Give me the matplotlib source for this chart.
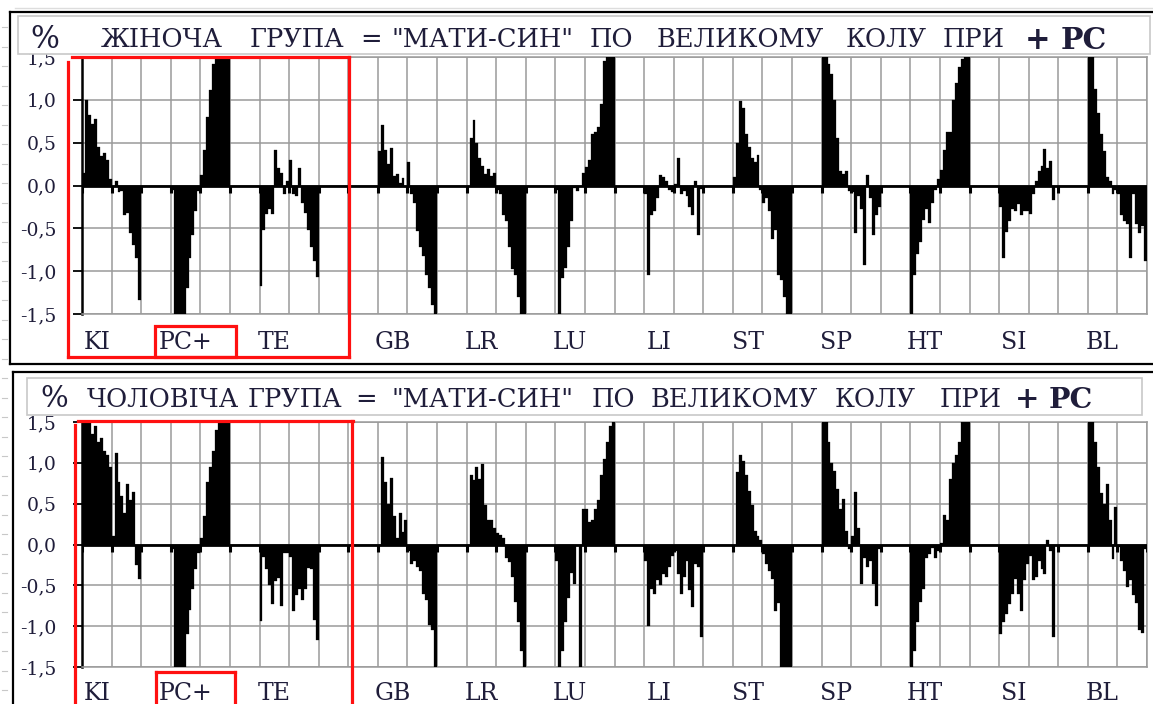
import numpy as np
import matplotlib
matplotlib.use("Agg")
import matplotlib.pyplot as plt
from matplotlib.patches import Rectangle
from matplotlib.ticker import FuncFormatter, MultipleLocator

plt.rcParams['axes.unicode_minus'] = False
plt.rcParams['font.family'] = ['DejaVu Serif']

# ---------------- data ----------------
meridians = ["KI", "PC+", "TE", "GB", "LR", "LU", "LI", "ST", "SP", "HT", "SI", "BL"]

# female group (top panel), 30 values per meridian
f_KI = [0.15, 1.0, 0.82, 0.72, 0.78, 0.45, 0.35, 0.38, 0.3, 0.08,
        0.0, 0.05, -0.08, -0.06, -0.35, -0.32, -0.55, -0.7, -0.85, -1.34,
        0, 0, 0, 0, 0, 0, 0, 0, 0, 0]
f_PC = [-0.05, -1.6, -1.6, -1.6, -1.5, -1.2, -0.85, -0.58, -0.3, -0.06,
        0.12, 0.42, 0.8, 1.12, 1.42, 1.6, 1.6, 1.6, 1.6, 1.6,
        0, 0, 0, 0, 0, 0, 0, 0, 0, 0]
f_TE = [-1.17, -0.52, -0.33, -0.28, -0.33, 0.41, 0.2, 0.15, -0.1, 0.05,
        0.3, -0.1, -0.12, 0.2, -0.2, -0.32, -0.52, -0.72, -0.88, -1.07,
        0, 0, 0, 0, 0, 0, 0, 0, 0, 0]
f_GB = [0, 0, 0, 0, 0, 0, 0, 0, 0, 0,
        0.4, 0.71, 0.42, 0.25, 0.44, 0.11, 0.13, 0.03, 0.09, -0.02,
        0.27, -0.1, -0.2, -0.53, -0.72, -0.82, -1.05, -1.2, -1.4, -1.6]
f_LR = [0, 0, 0, 0, 0, 0, 0, 0, 0, 0,
        0.0, 0.56, 0.77, 0.5, 0.32, 0.23, 0.13, 0.19, 0.11, 0.15,
        -0.05, -0.1, -0.35, -0.42, -0.72, -0.98, -1.05, -1.3, -1.6, -1.6]
f_LU = [0, 0, 0, 0, 0, 0, 0, 0, 0, 0,
        -0.05, -1.6, -1.08, -0.96, -0.72, -0.42, -0.03, -0.07, 0.0, 0.15,
        0.22, 0.3, 0.6, 0.63, 0.68, 0.95, 1.45, 1.6, 1.6, 1.6]
f_LI = [0, 0, 0, 0, 0, 0, 0, 0, 0, 0,
        -0.1, -1.05, -0.35, -0.3, -0.15, 0.12, 0.1, 0.05, -0.05, -0.08,
        0.02, 0.32, -0.1, -0.06, -0.12, -0.25, -0.35, 0.05, -0.58, -0.04]
f_ST = [0, 0, 0, 0, 0, 0, 0, 0, 0, 0,
        0.1, 0.5, 0.99, 0.9, 0.6, 0.45, 0.32, 0.28, 0.36, -0.05,
        -0.2, -0.15, -0.3, -0.62, -0.52, -1.05, -1.1, -1.3, -1.6, -1.6]
f_SP = [0, 0, 0, 0, 0, 0, 0, 0, 0, 0,
        1.6, 1.6, 1.42, 1.3, 1.0, 0.55, 0.17, 0.13, 0.17, -0.06,
        -0.08, -0.55, -0.12, -0.28, -0.93, 0.12, -0.15, -0.58, -0.35, -0.25]
f_HT = [0, 0, 0, 0, 0, 0, 0, 0, 0, 0,
        -1.6, -1.05, -0.8, -0.66, -0.4, -0.28, -0.44, -0.2, -0.05, 0.08,
        0.18, 0.42, 0.62, 0.62, 1.0, 1.2, 1.38, 1.48, 1.6, 1.6]
f_SI = [0, 0, 0, 0, 0, 0, 0, 0, 0, 0,
        -0.25, -0.85, -0.54, -0.42, -0.28, -0.3, -0.22, -0.34, -0.3, -0.3,
        -0.33, -0.1, 0.05, 0.17, 0.23, 0.43, 0.21, 0.29, -0.17, 0.0]
f_BL = [0, 0, 0, 0, 0, 0, 0, 0, 0, 0,
        1.6, 1.6, 1.13, 0.85, 0.6, 0.4, 0.1, 0.05, -0.1, -0.05,
        -0.1, -0.35, -0.42, -0.45, -0.85, -0.1, -0.45, -0.55, -0.47, -0.88]

# male group (bottom panel)
m_KI = [1.6, 1.6, 1.5, 1.35, 1.45, 1.25, 1.3, 1.15, 1.1, 0.95,
        0.1, 1.12, 0.76, 0.6, 0.38, 0.74, 0.55, 0.64, -0.25, -0.42,
        0, 0, 0, 0, 0, 0, 0, 0, 0, 0]
m_PC = [-0.05, -1.6, -1.6, -1.6, -1.5, -1.1, -0.8, -0.55, -0.3, -0.1,
        0.08, 0.35, 0.76, 0.95, 1.15, 1.4, 1.6, 1.6, 1.6, 1.6,
        0, 0, 0, 0, 0, 0, 0, 0, 0, 0]
m_TE = [-0.94, -0.15, -0.3, -0.5, -0.73, -0.45, -0.41, -0.75, -0.1, -0.1,
        -0.15, -0.81, -0.62, -0.55, -0.68, -0.55, -0.29, -0.3, -0.93, -1.17,
        0, 0, 0, 0, 0, 0, 0, 0, 0, 0]
m_GB = [0, 0, 0, 0, 0, 0, 0, 0, 0, 0,
        0.0, 1.07, 0.77, 0.5, 0.81, 0.35, 0.08, 0.38, 0.15, 0.3,
        -0.08, -0.24, -0.2, -0.27, -0.32, -0.6, -0.68, -0.99, -1.05, -1.5]
m_LR = [0, 0, 0, 0, 0, 0, 0, 0, 0, 0,
        0.0, 0.85, 0.79, 0.95, 0.8, 0.99, 0.48, 0.3, 0.3, 0.2,
        0.14, 0.12, 0.08, -0.16, -0.22, -0.4, -0.7, -0.95, -1.3, -1.5]
m_LU = [0, 0, 0, 0, 0, 0, 0, 0, 0, 0,
        -0.2, -1.6, -1.3, -0.95, -0.65, -0.35, -0.48, 0.0, -1.6, 0.44,
        0.44, 0.28, 0.3, 0.44, 0.54, 0.85, 1.05, 1.25, 1.45, 1.6]
m_LI = [0, 0, 0, 0, 0, 0, 0, 0, 0, 0,
        -0.2, -1.0, -0.55, -0.6, -0.44, -0.5, -0.36, -0.4, -0.28, -0.14,
        -0.08, -0.36, -0.6, -0.4, -0.2, -0.56, -0.77, -0.24, -0.28, -1.13]
m_ST = [0, 0, 0, 0, 0, 0, 0, 0, 0, 0,
        0.0, 0.89, 1.09, 1.02, 0.85, 0.65, 0.48, 0.16, 0.1, 0.05,
        -0.12, -0.24, -0.32, -0.42, -0.82, -0.72, -1.6, -1.6, -1.6, -1.6]
m_SP = [0, 0, 0, 0, 0, 0, 0, 0, 0, 0,
        1.6, 1.5, 1.25, 1.0, 0.9, 0.68, 0.44, 0.56, 0.16, -0.06,
        0.1, 0.64, 0.2, -0.48, -0.16, -0.28, -0.2, -0.48, -0.75, -0.06]
m_HT = [0, 0, 0, 0, 0, 0, 0, 0, 0, 0,
        -1.6, -1.3, -0.95, -0.7, -0.55, -0.16, -0.12, -0.04, -0.16, -0.08,
        0.02, 0.36, 0.3, 0.8, 1.0, 1.1, 1.25, 1.5, 1.6, 1.6]
m_SI = [0, 0, 0, 0, 0, 0, 0, 0, 0, 0,
        -1.09, -0.95, -0.85, -0.73, -0.6, -0.42, -0.6, -0.82, -0.44, -0.24,
        -0.14, -0.44, -0.4, -0.2, -0.3, -0.36, 0.06, -0.08, -1.13, 0.0]
m_BL = [0, 0, 0, 0, 0, 0, 0, 0, 0, 0,
        1.6, 1.5, 1.25, 0.95, 0.63, 0.5, 0.74, 0.3, -0.18, 0.46,
        -0.03, -0.2, -0.32, -0.52, -0.44, -0.62, -0.72, -1.05, -1.08, -0.05]

female = [f_KI, f_PC, f_TE, f_GB, f_LR, f_LU, f_LI, f_ST, f_SP, f_HT, f_SI, f_BL]
male = [m_KI, m_PC, m_TE, m_GB, m_LR, m_LU, m_LI, m_ST, m_SP, m_HT, m_SI, m_BL]

title_top_words = ["ЖІНОЧА", "ГРУПА", "=", "\"МАТИ-СИН\"", "ПО", "ВЕЛИКОМУ", "КОЛУ", "ПРИ"]
title_bot_words = ["ЧОЛОВІЧА", "ГРУПА", "=", "\"МАТИ-СИН\"", "ПО", "ВЕЛИКОМУ", "КОЛУ", "ПРИ"]

# ---------------- layout ----------------
W, H = 1153, 704
TEXT = '#1f1d3a'
GRID = '#9a9a9a'

fig = plt.figure(figsize=(W / 100, H / 100), dpi=100)
fig.patch.set_facecolor('white')


def fx(px):
    return px / W


def fy(py):
    return 1 - py / H


ax_top = fig.add_axes([fx(82), fy(314), fx(1147) - fx(82), fy(57) - fy(314)])
ax_bot = fig.add_axes([fx(82), fy(667), fx(1147) - fx(82), fy(422) - fy(667)])


def fmt(v, pos):
    if abs(v) < 1e-9:
        v = 0.0
    return f"{v:.1f}".replace('.', ',')


def draw_panel(ax, series):
    values = np.concatenate([np.asarray(s, dtype=float) for s in series])
    n = len(values)
    idx = np.arange(n)
    ax.bar(idx + 0.5, values, width=1.0, color='black', edgecolor='black',
           linewidth=0.2, zorder=3)
    ax.set_xlim(0, n)
    ax.set_ylim(-1.5, 1.5)
    ax.xaxis.set_major_locator(MultipleLocator(10))
    ax.yaxis.set_major_locator(MultipleLocator(0.5))
    ax.grid(True, color=GRID, lw=1.1)
    ax.set_axisbelow(True)
    ax.tick_params(axis='x', length=0, labelbottom=False)
    ax.tick_params(axis='y', direction='out', length=6.5, width=1.3, pad=12,
                   labelsize=13.5, labelcolor=TEXT, color='black')
    ax.yaxis.set_major_formatter(FuncFormatter(fmt))
    for name, sp in ax.spines.items():
        if name == 'left':
            sp.set_color('black')
            sp.set_linewidth(1.8)
        else:
            sp.set_color(GRID)
            sp.set_linewidth(1.1)
    ax.axhline(0, color='black', lw=2.0, zorder=4)
    seg = n // len(meridians)
    ax.vlines(np.arange(0, n + 1, 10), -0.09, 0, color='black', lw=2.2, zorder=4)
    for i, name in enumerate(meridians):
        xc = i * seg + (5 if i < 3 else 15)
        ax.text(xc, -1.91, name, ha='center', va='baseline', fontsize=17,
                color=TEXT, clip_on=False)


draw_panel(ax_top, female)
draw_panel(ax_bot, male)

# ---------------- overlay (frames, title boxes, red marks) ----------------
ov = fig.add_axes([0, 0, 1, 1], zorder=10)
ov.set_xlim(0, W)
ov.set_ylim(H, 0)
ov.axis('off')
ov.patch.set_alpha(0)

# faint worksheet marks
ov.plot([15, W], [8, 8], color='#dddddd', lw=1)
for yy in np.arange(27, H, 19.5):
    ov.plot([2, 7], [yy, yy], color='#c8c8c8', lw=0.8)

# outer frames
ov.plot([10, W + 2], [12, 12], color='black', lw=1.6)
ov.plot([10, 10], [12, 364], color='black', lw=1.6)
ov.plot([10, W + 2], [364, 364], color='black', lw=1.6)
ov.plot([13, W + 2], [372, 372], color='black', lw=1.6)
ov.plot([13, 13], [372, H + 2], color='black', lw=1.6)

# title boxes
ov.add_patch(Rectangle((18, 16), 1132, 38, fc='white', ec='#c8c8c8', lw=1.2))
ov.add_patch(Rectangle((27, 378), 1115, 37, fc='white', ec='#c8c8c8', lw=1.2))

top_centers = [162, 297, 371, 483, 611, 740, 886, 974]
bot_centers = [163, 295, 366, 482, 613, 734, 875, 971]
for w, cx in zip(title_top_words, top_centers):
    ov.text(cx, 47, w, ha='center', va='baseline', fontsize=18.5, color=TEXT)
for w, cx in zip(title_bot_words, bot_centers):
    ov.text(cx, 407, w, ha='center', va='baseline', fontsize=18.5, color=TEXT)
ov.text(45, 48, "%", ha='center', va='baseline', fontsize=22, color=TEXT)
ov.text(54, 407, "%", ha='center', va='baseline', fontsize=21, color=TEXT)
ov.text(1038, 49, "+", ha='center', va='baseline', fontsize=22, fontweight='bold', color=TEXT)
ov.text(1084, 49, "PC", ha='center', va='baseline', fontsize=21.5, fontweight='bold', color=TEXT)
ov.text(1027, 408, "+", ha='center', va='baseline', fontsize=21, fontweight='bold', color=TEXT)
ov.text(1071, 408, "PC", ha='center', va='baseline', fontsize=20.5, fontweight='bold', color=TEXT)

# red highlight frames
RED = '#ff1010'
LW = 2.3
ov.plot([68, 68], [62, 357], color=RED, lw=LW)
ov.plot([72, 349], [57, 57], color=RED, lw=LW)
ov.plot([349, 349], [57, 357], color=RED, lw=LW)
ov.plot([68, 349], [357, 357], color=RED, lw=LW)
ov.add_patch(Rectangle((155, 326), 81, 31, fill=False, ec=RED, lw=LW))

ov.plot([75, 75], [425, H + 2], color=RED, lw=LW)
ov.plot([78, 353], [421, 421], color=RED, lw=LW)
ov.plot([352, 352], [421, H + 2], color=RED, lw=LW)
ov.plot([156, 156], [672, H + 2], color=RED, lw=LW)
ov.plot([235, 235], [672, H + 2], color=RED, lw=LW)
ov.plot([156, 235], [672, 672], color=RED, lw=LW)

fig.savefig("out.png", dpi=100)
